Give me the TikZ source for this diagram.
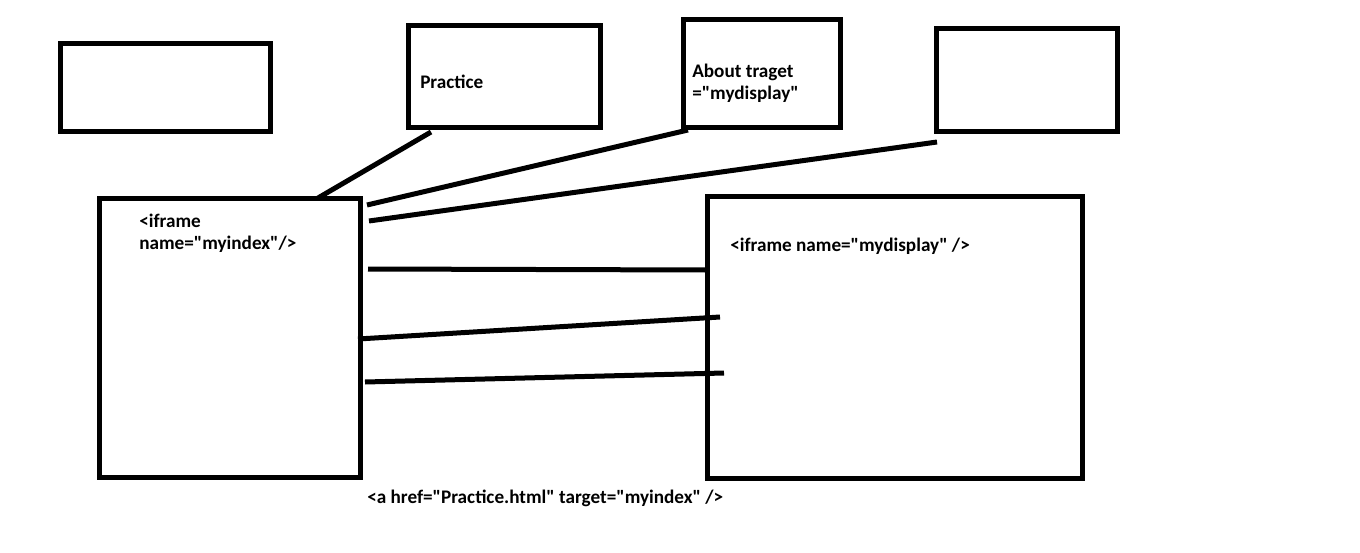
\documentclass[tikz,border=0pt]{standalone}
\usepackage{fontspec}
\setmainfont{Carlito}[Ligatures=TeXOff]
\usepackage{xcolor}
\usetikzlibrary{positioning}
\definecolor{inkc}{HTML}{000000}
\tikzset{
  frm/.style 2 args={draw=inkc,line width=3.75pt,inner sep=0pt,outer sep=0pt,
    minimum width=#1*0.75pt,minimum height=#2*0.75pt},
  ln/.style={inkc,line width=3.75pt},
  lbl/.style={font=\fontsize{14.4}{16.2}\selectfont\bfseries,inner sep=0pt,anchor=base west,align=left}
}
\begin{document}
\begin{tikzpicture}[x=0.75pt,y=-0.75pt]
\useasboundingbox (0,0) rectangle (1360,553);
\node[frm={210}{88}] (blank1) at (165.5,87.5) {};
\node[frm={192}{102}] (prac) at (504.5,76.5) {};
\node[frm={157}{108}] (about) at (762,73.5) {};
\node[frm={181}{103}] (blank2) at (1027,80) {};
\node[frm={261}{279}] (idx) at (230,338) {};
\node[frm={375}{282}] (disp) at (895,337.5) {};
\node[lbl] (tprac) at (420,88) {Practice};
\node[lbl] (tabout) at (692,99) {About traget\\="mydisplay"};
\node[lbl] (tidx) at (139,249) {<iframe\\name="myindex"/>};
\node[lbl] (tdisp) at (730,251) {<iframe name="mydisplay" />};
\node[lbl] (thref) at (367,503) {<a href="Practice.html" target="myindex" />};
\coordinate (c1) at (431,132);
\coordinate (c2) at (318,198);
\coordinate (c3) at (688,130);
\coordinate (c4) at (367,205);
\coordinate (c5) at (937,142);
\coordinate (c6) at (369,221);
\coordinate (c7) at (368,269);
\coordinate (c8) at (706,270);
\coordinate (c9) at (358,339);
\coordinate (c10) at (720,317);
\coordinate (c11) at (365,382);
\coordinate (c12) at (724,373);
\draw[ln] (c1)--(c2);
\draw[ln] (c3)--(c4);
\draw[ln] (c5)--(c6);
\draw[ln] (c7)--(c8);
\draw[ln] (c9)--(c10);
\draw[ln] (c11)--(c12);
\end{tikzpicture}
\end{document}
